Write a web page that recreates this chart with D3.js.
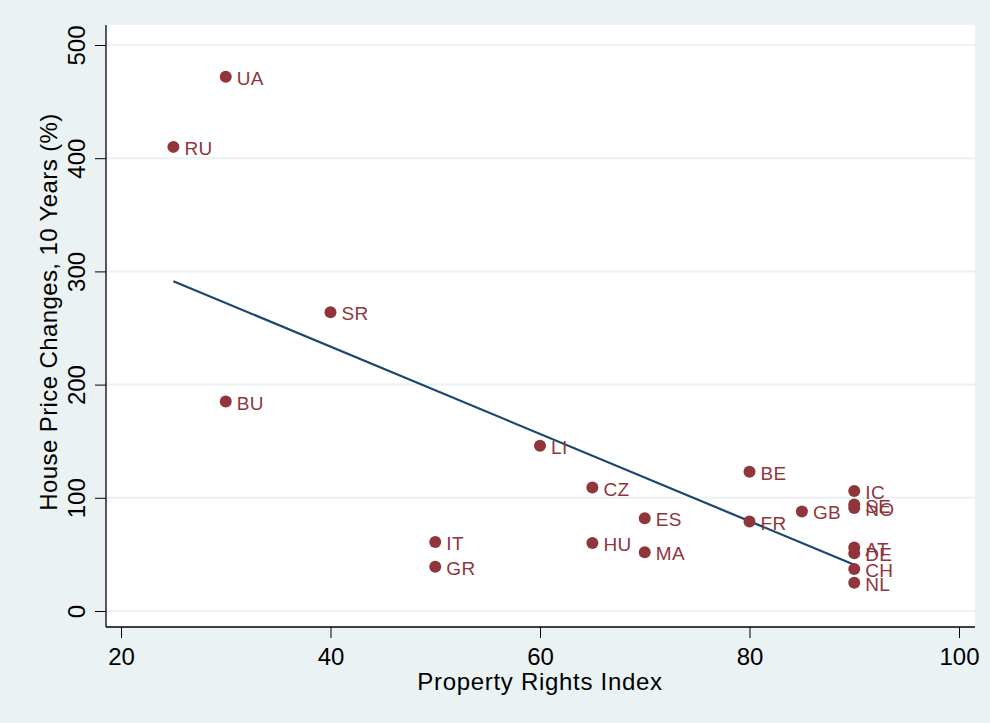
<!DOCTYPE html>
<html>
<head>
<meta charset="utf-8">
<script src="https://cdn.jsdelivr.net/npm/d3@7"></script>
<style>
  body { margin: 0; background: #fff; }
  svg { display: block; }
</style>
</head>
<body>
<div id="chart"></div>
<script>
// country codes, property rights index and 10-year house price change (%)
const countries = ["UA", "RU", "SR", "BU", "LI", "CZ", "BE", "IC", "SE", "NO", "GB", "ES", "FR", "AT", "DE", "CH", "NL", "IT", "GR", "HU", "MA"];
const propertyRights = [30, 25, 40, 30, 60, 65, 80, 90, 90, 90, 85, 70, 80, 90, 90, 90, 90, 50, 50, 65, 70];
const priceChange = [472, 410, 264, 185, 146, 109, 123, 106, 94, 91, 88, 82, 79, 56, 51, 37, 25, 61, 39, 60, 52];
const xTicks = [20, 40, 60, 80, 100];
const yTicks = [0, 100, 200, 300, 400, 500];

let width = 990, height = 723;
let margin = { top: 25, left: 106, right: 15, bottom: 96 };

let data = countries.map((c, i) => ({ code: c, x: propertyRights[i], y: priceChange[i] }));

let svg = d3.select("#chart")
  .append("svg")
  .attr("width", width)
  .attr("height", height);

svg.append("rect")
  .attr("width", width).attr("height", height)
  .attr("fill", "#eaf2f3");

let x = d3.scaleLinear().domain([20, 100]).range([121, 959]);
let y = d3.scaleLinear().domain([0, 500]).range([611, 45]);

let plotRight = width - margin.right,
    plotBottom = height - margin.bottom;

// white plot region
svg.append("rect")
  .attr("x", margin.left).attr("y", margin.top)
  .attr("width", plotRight - margin.left)
  .attr("height", plotBottom - margin.top)
  .attr("fill", "#fff");

// horizontal grid lines
svg.append("g")
  .selectAll("line")
  .data(yTicks)
  .enter()
    .append("line")
    .attr("x1", margin.left).attr("x2", plotRight)
    .attr("y1", d => y(d)).attr("y2", d => y(d))
    .attr("stroke", "#eaf2f3")
    .attr("stroke-width", 2);

// least squares fit line
let mx = d3.mean(data, d => d.x), my = d3.mean(data, d => d.y);
let slope = d3.sum(data, d => (d.x - mx) * (d.y - my)) / d3.sum(data, d => (d.x - mx) ** 2);
let icpt = my - slope * mx;
let xExt = d3.extent(data, d => d.x);

svg.append("path")
  .datum(xExt)
  .attr("d", d3.line().x(d => x(d)).y(d => y(icpt + slope * d)))
  .attr("fill", "none")
  .attr("stroke", "#1a476f")
  .attr("stroke-width", 2.2);

// axes
let font = "'Liberation Sans', Arial, sans-serif";

let xAxis = svg.append("g")
  .attr("transform", `translate(0,${plotBottom})`)
  .call(d3.axisBottom(x).tickValues(xTicks).tickSize(11).tickPadding(4).tickFormat(d3.format("d")));
xAxis.select(".domain").attr("d", `M${margin.left},0H${plotRight}`).attr("stroke", "#000").attr("stroke-width", 1.3);
xAxis.selectAll(".tick text")
  .attr("font-family", font).attr("font-size", 24).attr("fill", "#000")
  .attr("y", 38).attr("dy", 0);

let yAxis = svg.append("g")
  .attr("transform", `translate(${margin.left},0)`)
  .call(d3.axisLeft(y).tickValues(yTicks).tickSize(11).tickFormat(d3.format("d")));
yAxis.select(".domain").attr("d", `M0,${margin.top}V${plotBottom}`).attr("stroke", "#000").attr("stroke-width", 1.3);
// rotated y tick labels
yAxis.selectAll(".tick text")
  .attr("font-family", font).attr("font-size", 24).attr("fill", "#000")
  .attr("transform", "rotate(-90)")
  .attr("text-anchor", "middle")
  .attr("x", 0)
  .attr("y", -21)
  .attr("dy", 0);

// axis titles
svg.append("text")
  .attr("x", 540).attr("y", 690)
  .attr("text-anchor", "middle")
  .attr("font-family", font).attr("font-size", 24)
  .attr("letter-spacing", 0.7)
  .text("Property Rights Index");

svg.append("text")
  .attr("transform", "translate(57,312) rotate(-90)")
  .attr("text-anchor", "middle")
  .attr("font-family", font).attr("font-size", 24)
  .attr("letter-spacing", 0.4)
  .text("House Price Changes, 10 Years (%)");

// points and labels
let pts = svg.append("g");
pts.selectAll("circle")
  .data(data)
  .enter()
    .append("circle")
    .attr("cx", d => x(d.x)).attr("cy", d => y(d.y))
    .attr("r", 6)
    .attr("fill", "#90353b");

pts.selectAll("text")
  .data(data)
  .enter()
    .append("text")
    .attr("x", d => x(d.x) + 11).attr("y", d => y(d.y) + 8)
    .attr("font-family", font)
    .attr("font-size", 19)
    .attr("letter-spacing", 0.4)
    .attr("fill", "#90353b")
    .text(d => d.code);
</script>
</body>
</html>
